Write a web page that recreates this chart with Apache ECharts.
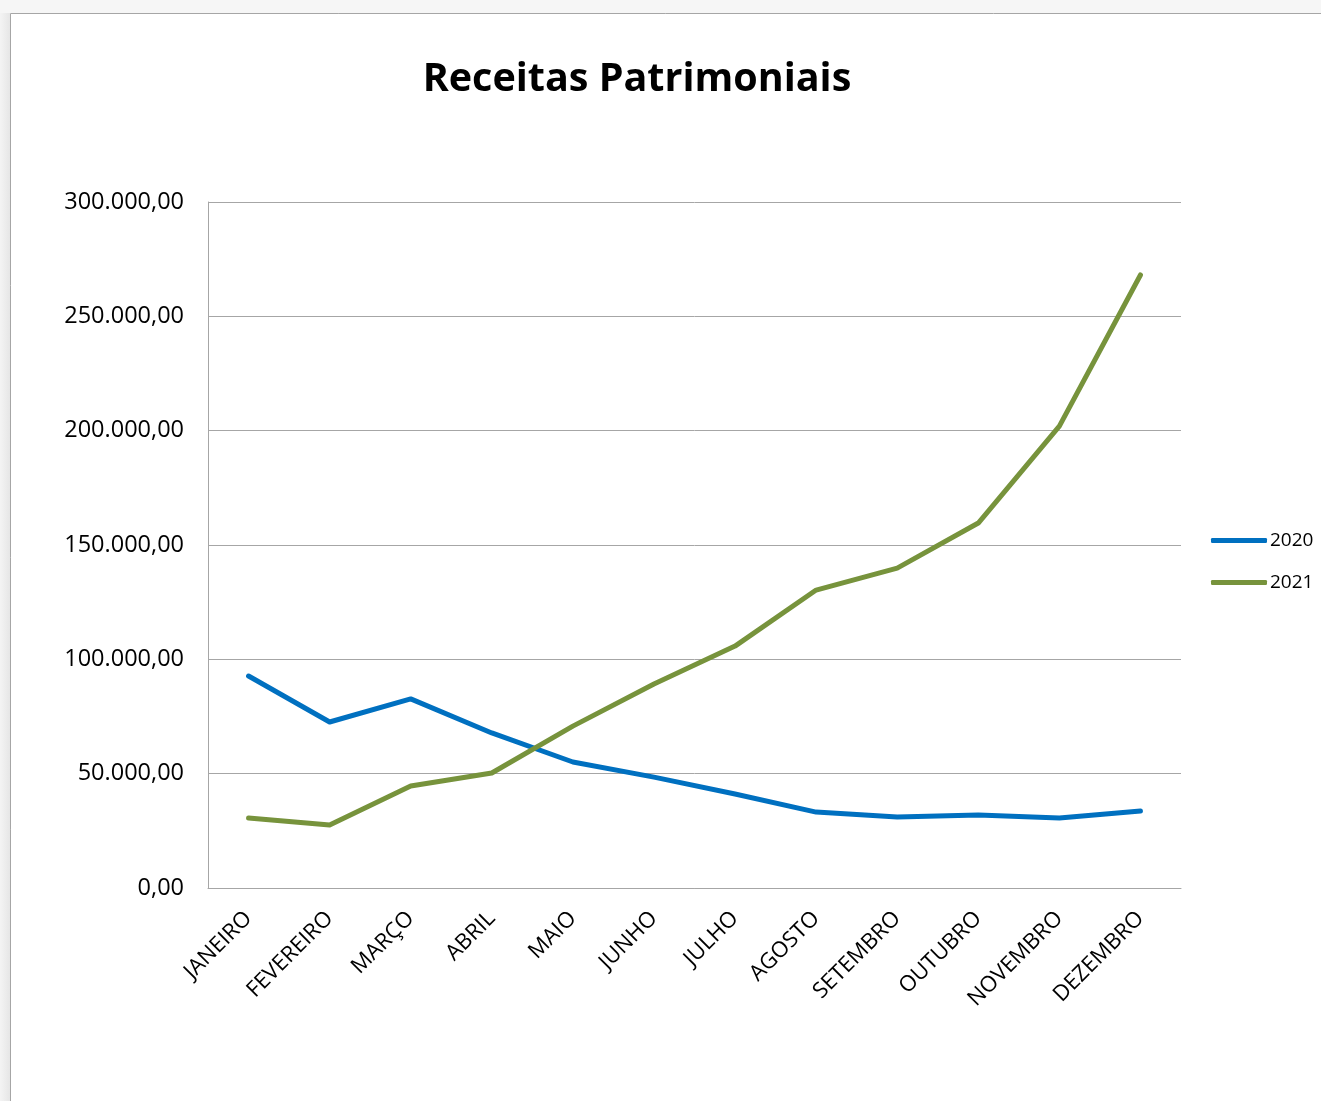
<!DOCTYPE html>
<html>
<head>
<meta charset="utf-8">
<script src="https://cdn.jsdelivr.net/npm/echarts@6/dist/echarts.min.js"></script>
<style>
html,body{margin:0;padding:0;background:#fff;}
#c{width:1321px;height:1101px;}
</style>
</head>
<body>
<div id="c"></div>
<script>
const categories = ['JANEIRO','FEVEREIRO','MARÇO','ABRIL','MAIO','JUNHO','JULHO','AGOSTO','SETEMBRO','OUTUBRO','NOVEMBRO','DEZEMBRO'];
const values2020 = [92700, 72600, 82700, 67800, 55100, 48500, 41100, 33200, 31000, 31900, 30600, 33700];
const values2021 = [30600, 27600, 44600, 50300, 70800, 89200, 105800, 130300, 139900, 159600, 202000, 268100];
const seriesNames = ['2020', '2021'];
const titleText = 'Receitas Patrimoniais';

const chart = echarts.init(document.getElementById('c'));
const fmt = v => {
  const s = Math.round(v).toString().replace(/\B(?=(\d{3})+(?!\d))/g, '.');
  return s + ',00';
};
const font = '"Open Sans", "Noto Sans", sans-serif';
chart.setOption({
  animation: false,
  backgroundColor: '#fff',
  graphic: [
    { type: 'rect', left: 0, top: 0, shape: { width: 10, height: 1101 },
      style: { fill: new echarts.graphic.LinearGradient(0,0,1,0,[{offset:0,color:'#f4f4f4'},{offset:1,color:'#e6e6e6'}]) }, silent: true, z: -10 },
    { type: 'rect', left: 0, top: 0, shape: { width: 1321, height: 13 },
      style: { fill: '#f6f6f6' }, silent: true, z: -10 },
    { type: 'line', shape: { x1: 10.5, y1: 13.5, x2: 1321, y2: 13.5 }, style: { stroke: '#a6a6a6', lineWidth: 1 }, silent: true },
    { type: 'line', shape: { x1: 10.5, y1: 13.5, x2: 10.5, y2: 1101 }, style: { stroke: '#a6a6a6', lineWidth: 1 }, silent: true }
  ],
  title: {
    text: titleText,
    left: 632, top: 55, textAlign: 'center',
    textStyle: { fontFamily: font, fontWeight: 'bold', fontSize: 39.5, color: '#000' }
  },
  legend: {
    orient: 'vertical',
    left: 1206, top: 526,
    data: seriesNames,
    icon: 'roundRect',
    itemWidth: 56, itemHeight: 5,
    itemGap: 23,
    textStyle: { fontFamily: font, fontSize: 19, color: '#000', padding: [0,0,0,-2] }
  },
  grid: { left: 208, right: 140, top: 202, bottom: 213, containLabel: false },
  xAxis: {
    type: 'category',
    data: categories,
    boundaryGap: true,
    axisLine: { show: true, lineStyle: { color: '#a6a6a6', width: 1 } },
    axisTick: { show: false },
    axisLabel: { rotate: 45, margin: 27, fontFamily: font, fontSize: 22, color: '#000', interval: 0 }
  },
  yAxis: {
    type: 'value',
    min: 0, max: 300000, interval: 50000,
    axisLine: { show: true, lineStyle: { color: '#a6a6a6', width: 1 } },
    axisTick: { show: false },
    splitLine: { show: true, lineStyle: { color: '#a6a6a6', width: 1 } },
    axisLabel: { formatter: fmt, margin: 24, fontFamily: font, fontSize: 23.5, color: '#000' }
  },
  series: [
    { name: seriesNames[0], type: 'line', data: values2020, symbol: 'none',
      lineStyle: { color: '#0070C0', width: 5, cap: 'round', join: 'round' }, itemStyle: { color: '#0070C0' } },
    { name: seriesNames[1], type: 'line', data: values2021, symbol: 'none',
      lineStyle: { color: '#77933C', width: 5, cap: 'round', join: 'round' }, itemStyle: { color: '#77933C' } }
  ]
});
</script>
</body>
</html>
